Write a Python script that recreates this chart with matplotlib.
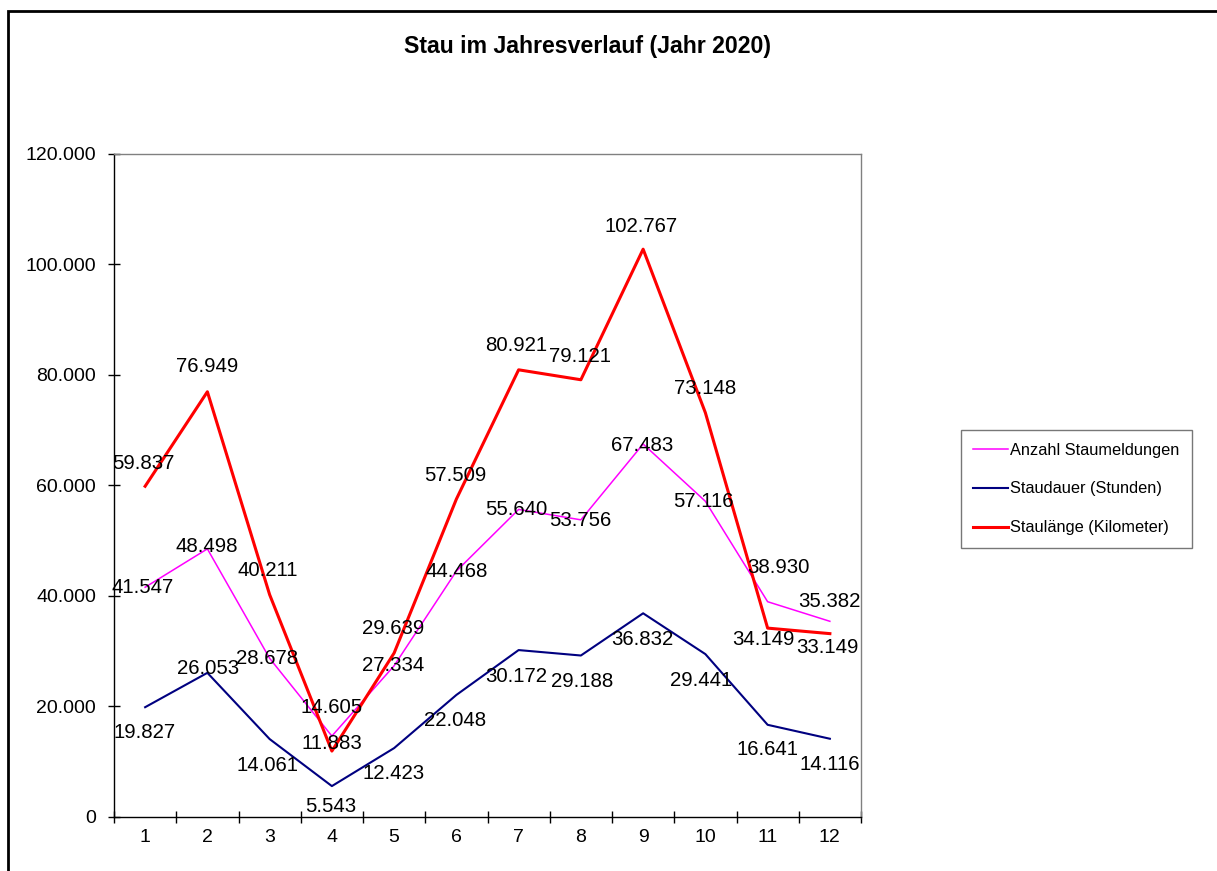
import matplotlib
matplotlib.use("Agg")
import matplotlib.pyplot as plt
from matplotlib.patches import Rectangle
from matplotlib.ticker import FuncFormatter, MultipleLocator

plt.rcParams['font.family'] = ['Liberation Sans', 'DejaVu Sans']

months = [1, 2, 3, 4, 5, 6, 7, 8, 9, 10, 11, 12]
anzahl = [41547, 48498, 28678, 14605, 27334, 44468, 55640, 53756, 67483, 57116, 38930, 35382]
dauer = [19827, 26053, 14061, 5543, 12423, 22048, 30172, 29188, 36832, 29441, 16641, 14116]
laenge = [59837, 76949, 40211, 11883, 29639, 57509, 80921, 79121, 102767, 73148, 34149, 33149]

series_names = ["Anzahl Staumeldungen", "Staudauer (Stunden)", "Staulänge (Kilometer)"]

# label offsets (pixels) relative to each data point
anzahl_off = [(-2, 0), (-1, 2), (-3, 0), (0, 29), (-1, 0), (0, 0), (-2, 0), (-1, -1), (-1, -1), (-2, 0), (11, 34), (-1, 20)]
dauer_off = [(-1, -25), (1, 4), (-2, -26), (-1, -20), (-1, -25), (-1, -26), (-2, -26), (1, -26), (-1, -26), (-4, -26), (0, -25), (0, -26)]
laenge_off = [(-2, 23), (0, 25), (-2, 24), (0, 8), (-1, 25), (-1, 24), (-2, 24), (-1, 23), (-2, 23), (0, 24), (-4, -11), (-3, -14)]


def de_fmt(v, _pos=None):
    s = f"{int(round(v)):,}".replace(",", ".")
    return s


fig = plt.figure(figsize=(12.17, 8.71), dpi=100)
ax = fig.add_axes([114 / 1217, 1 - 816.7 / 871, (861 - 114) / 1217, (816.7 - 154) / 871])

ax.plot(months, anzahl, color="#FF00FF", lw=1.1, label=series_names[0], zorder=3)
ax.plot(months, dauer, color="#000080", lw=1.5, label=series_names[1], zorder=3)
ax.plot(months, laenge, color="#FF0000", lw=2.2, label=series_names[2], zorder=4)

for vals, offs in ((anzahl, anzahl_off), (dauer, dauer_off), (laenge, laenge_off)):
    for m, v, (dx, dy) in zip(months, vals, offs):
        ax.annotate(de_fmt(v), (m, v), xytext=(dx, dy), textcoords="offset pixels",
                    ha="center", va="center", fontsize=14.7, color="black", zorder=5)

ax.set_xlim(0.5, 12.5)
ax.set_ylim(0, 120000)
ax.yaxis.set_major_locator(MultipleLocator(20000))
ax.yaxis.set_major_formatter(FuncFormatter(de_fmt))
ax.set_xticks(months)
ax.set_xticklabels([str(m) for m in months])
ax.tick_params(axis="x", which="major", length=0, pad=9, labelsize=14)
ax.set_xticks([m + 0.5 for m in [0] + months], minor=True)
ax.tick_params(axis="x", which="minor", direction="inout", length=8, width=1, color="black")
ax.tick_params(axis="y", direction="inout", length=8, width=1, pad=9, labelsize=14)

for side in ("left", "bottom"):
    ax.spines[side].set_color("black")
    ax.spines[side].set_linewidth(1)
for side in ("top", "right"):
    ax.spines[side].set_color("#808080")
    ax.spines[side].set_linewidth(1)

fig.text(588 / 1217, 1 - 47 / 871, "Stau im Jahresverlauf (Jahr 2020)", ha="center", va="center",
         fontsize=16.7, fontweight="bold")

leg = fig.legend(loc="center left", bbox_to_anchor=(961 / 1217, 1 - 489 / 871), fontsize=11.8,
                 frameon=True, fancybox=False, handlelength=2.1, handletextpad=0.15,
                 labelspacing=1.45, borderpad=0.75, borderaxespad=0)
leg.get_frame().set_edgecolor("#555555")
leg.get_frame().set_linewidth(1)

fig.patches.append(Rectangle((8 / 1217, -0.1), 1.2, 1.1 - 11 / 871, transform=fig.transFigure,
                             fill=False, edgecolor="black", linewidth=2, clip_on=False))

fig.savefig("out.png", dpi=100)
